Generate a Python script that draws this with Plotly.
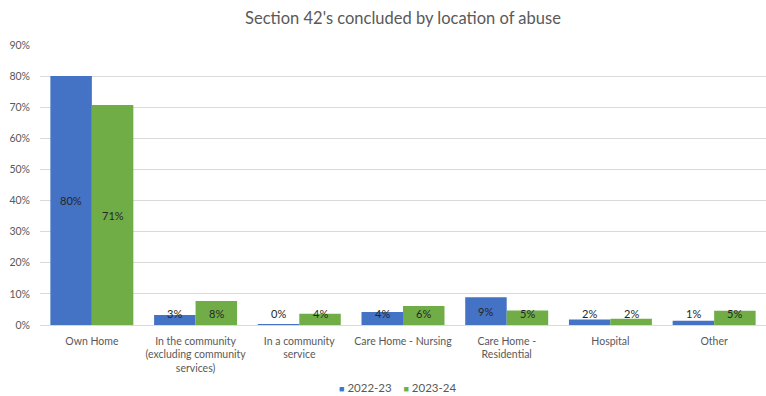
import plotly.graph_objects as go

categories = [
    "Own Home",
    "In the community<br>(excluding community<br>services)",
    "In a community<br>service",
    "Care Home - Nursing",
    "Care Home -<br>Residential",
    "Hospital",
    "Other",
]
values_2022_23 = [0.800, 0.032, 0.003, 0.042, 0.089, 0.018, 0.014]
values_2023_24 = [0.707, 0.077, 0.036, 0.061, 0.047, 0.020, 0.046]
series_names = ["2022-23", "2023-24"]
tick_vals = [i / 10 for i in range(10)]
tick_text = [f"{i * 10}%" for i in range(10)]

colors = ["#4472C4", "#70AD47"]
font_family = "Lato, Calibri, sans-serif"
grey = "#595959"

W, H = 766, 396
margin = dict(l=40, r=0, t=45, b=71)
bargap = 0.2
plot_w = W - margin["l"] - margin["r"]
plot_h = H - margin["t"] - margin["b"]

fig = go.Figure()
for name, vals, col in zip(series_names, [values_2022_23, values_2023_24], colors):
    fig.add_trace(go.Bar(
        x=categories, y=vals, name=name,
        marker=dict(color=col, line=dict(width=0)),
        hoverinfo="x+y", showlegend=False,
    ))

# value labels: centred in each bar, kept clear of the axis for short bars
cat_w = plot_w / len(categories)
bar_w = cat_w * (1 - bargap) / 2
min_label_y = 0.036
annotations = []
for k, vals in enumerate([values_2022_23, values_2023_24]):
    shift = (k - 0.5) * bar_w
    for cat, v in zip(categories, vals):
        annotations.append(dict(
            x=cat, y=max(v / 2, min_label_y), xref="x", yref="y",
            text=f"{round(v * 100)}%", showarrow=False, xshift=shift,
            font=dict(family=font_family, size=11, color="#262626"),
        ))

# compact legend below the axis: small coloured squares followed by series names
legend_text = "&nbsp;&nbsp;&nbsp;&nbsp;".join(
    f"<span style='color:{c};font-size:9px'>■</span>&nbsp;{n}"
    for n, c in zip(series_names, colors)
)
legend_cx, legend_cy = 397, 387
annotations.append(dict(
    x=(legend_cx - margin["l"]) / plot_w,
    y=(H - margin["b"] - legend_cy) / plot_h,
    xref="paper", yref="paper",
    text=legend_text, showarrow=False, xanchor="center", yanchor="middle",
    font=dict(family=font_family, size=11.5, color=grey),
))

fig.update_layout(
    width=W, height=H, margin=margin,
    paper_bgcolor="white", plot_bgcolor="white",
    barmode="group", bargap=bargap, bargroupgap=0,
    title=dict(text="Section 42's concluded by location of abuse",
               x=0.5, xref="paper", xanchor="center",
               y=1 - 18 / H, yref="container", yanchor="middle",
               font=dict(family=font_family, size=16.5, color=grey)),
    font=dict(family=font_family, size=10.5, color=grey),
    xaxis=dict(showline=True, linecolor="#d9d9d9", linewidth=1,
               ticks="", ticklabelstandoff=6, automargin=False,
               tickfont=dict(size=10.5, color=grey), fixedrange=True),
    yaxis=dict(range=[0, 0.9], tickvals=tick_vals, ticktext=tick_text,
               showgrid=True, gridcolor="#d9d9d9", gridwidth=1,
               zeroline=False, showline=False, ticks="",
               ticklabelstandoff=9, automargin=False,
               tickfont=dict(size=10.5, color=grey), fixedrange=True),
    annotations=annotations,
    showlegend=False,
)

fig.write_html("out.html")
